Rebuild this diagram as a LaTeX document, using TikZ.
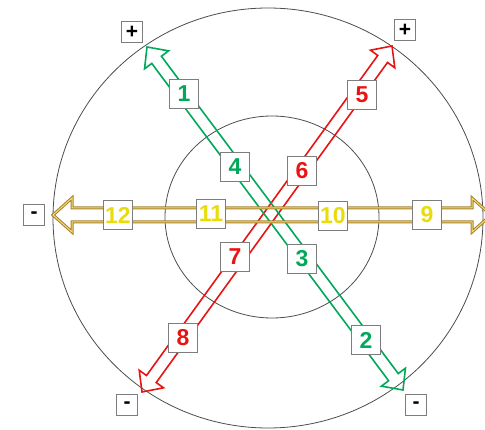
\documentclass[tikz,border=0pt]{standalone}
\usepackage{fontspec}
\setmainfont{Liberation Sans}
\usepackage{tikz}
\usetikzlibrary{calc}
\definecolor{grn}{RGB}{0,168,90}
\definecolor{rd}{RGB}{232,20,20}
\definecolor{ylw}{RGB}{232,220,10}
\definecolor{gold}{RGB}{165,128,45}
\definecolor{goldin}{RGB}{248,220,115}
\definecolor{rim}{RGB}{125,125,125}
% hollow arrow, heads at both ends: #1 style, #2 and #3 tips,
% #4 head length, #5 head half width, #6 shaft half width
\newcommand{\blockarrow}[6]{%
  \coordinate (#2-b) at ($(#2)!#4!(#3)$);
  \coordinate (#3-b) at ($(#3)!#4!(#2)$);
  \draw[#1] (#2) -- ($(#2-b)!#5!90:(#3)$) -- ($(#2-b)!#6!90:(#3)$)
    -- ($(#3-b)!#6!-90:(#2)$) -- ($(#3-b)!#5!-90:(#2)$) -- (#3)
    -- ($(#3-b)!#5!90:(#2)$) -- ($(#3-b)!#6!90:(#2)$)
    -- ($(#2-b)!#6!-90:(#3)$) -- ($(#2-b)!#5!-90:(#3)$) -- cycle;}

\begin{document}
\begin{tikzpicture}[x=1pt,y=-1pt,line join=miter,
  numbox/.style={draw=rim,fill=white,line width=1pt,minimum size=29pt,inner sep=0pt,
    font=\bfseries\fontsize{23}{23}\selectfont},
  signbox/.style={draw=rim,fill=white,line width=1pt,minimum size=21pt,inner sep=0pt,
    font=\bfseries\fontsize{21}{21}\selectfont}]
\useasboundingbox (0,0) rectangle (485,430);
% rings
\draw[black!70,line width=0.8pt] (268,218) ellipse [x radius=215,y radius=210];
\draw[black!70,line width=0.8pt] (272,217) ellipse [x radius=107,y radius=101];
% tips of the arrows
\coordinate (gA) at (147,47);
\coordinate (gB) at (403,390);
\coordinate (rA) at (392,46);
\coordinate (rB) at (142,392);
\coordinate (hA) at (53,215);
\coordinate (hB) at (491,215);
% arrows
\blockarrow{rd,line width=1.6pt}{rA}{rB}{16pt}{15pt}{6pt}
\blockarrow{grn,line width=1.6pt}{gA}{gB}{16pt}{15pt}{6pt}
\blockarrow{gold,line width=3pt}{hA}{hB}{19pt}{17pt}{7pt}
\blockarrow{goldin,line width=1pt}{hA}{hB}{19pt}{17pt}{7pt}
% numbered boxes
\foreach \n/\x/\y/\c in {1/184/94/grn, 4/235/167/grn, 3/302/259/grn, 2/366/340/grn,
    5/362/95/rd, 6/302/171/rd, 7/235/257/rd, 8/183/338/rd,
    12/118/215/ylw, 11/211/214/ylw, 10/333/216/ylw, 9/427/215/ylw}
  \node[numbox,text=\c] (n\n) at (\x,\y) {\n};
% poles
\foreach \s/\x/\y/\t in {pl/132/32/+, pr/405/30/+, ml/34/215/-, mb/127/405/-, mr/416/405/-}
  \node[signbox] (\s) at (\x,\y) {\t};
\end{tikzpicture}
\end{document}
